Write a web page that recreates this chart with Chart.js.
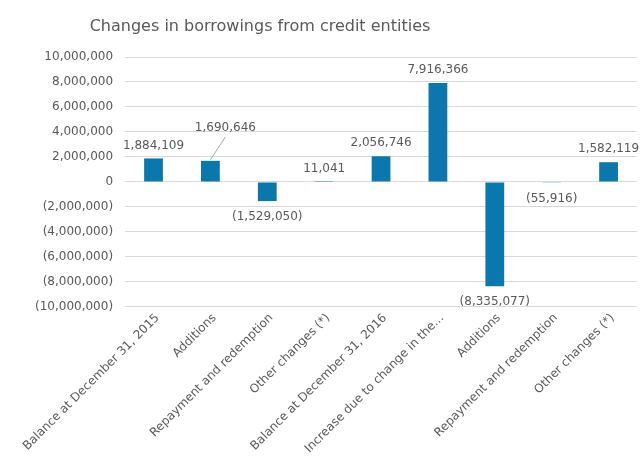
<!DOCTYPE html>
<html lang="en">
<head>
    <meta charset="UTF-8">
    <title>Changes in borrowings from credit entities</title>
    <script src="https://cdn.jsdelivr.net/npm/chart.js"></script>
    <style>
        body { margin: 0; background: #fff; }
    </style>
</head>
<body>
    <canvas id="borrowChart" width="642" height="460"></canvas>

    <script>
        const categories = [
            'Balance at December 31, 2015',
            'Additions',
            'Repayment and redemption',
            'Other changes (*)',
            'Balance at December 31, 2016',
            'Increase due to change in the...',
            'Additions',
            'Repayment and redemption',
            'Other changes (*)'
        ];
        const amounts = [1884109, 1690646, -1529050, 11041, 2056746, 7916366, -8335077, -55916, 1582119];
        const yMin = -10000000;
        const yMax = 10000000;
        const yStep = 2000000;
        const chartTitle = 'Changes in borrowings from credit entities';

        const FONT = 'DejaVu Sans, Verdana, sans-serif';
        const TEXT = '#595959';

        function fmt(v) {
            const s = Math.abs(v).toLocaleString('en-US');
            return v < 0 ? '(' + s + ')' : s;
        }

        // value labels like excel; second bar has a leader line
        const valueLabels = {
            id: 'valueLabels',
            afterDatasetsDraw(chart) {
                const ctx = chart.ctx;
                const meta = chart.getDatasetMeta(0);
                ctx.save();
                ctx.font = '12px ' + FONT;
                ctx.fillStyle = TEXT;
                ctx.textAlign = 'center';
                ctx.textBaseline = 'middle';
                meta.data.forEach((bar, i) => {
                    const v = amounts[i];
                    let x = bar.x;
                    let y = v >= 0 ? bar.y - 13 : bar.y + 16;
                    if (i === 1) {
                        x = bar.x + 15;
                        y = bar.y - 33;
                        ctx.strokeStyle = '#a6a6a6';
                        ctx.lineWidth = 1;
                        ctx.beginPath();
                        ctx.moveTo(x, y + 9);
                        ctx.lineTo(bar.x, bar.y - 1);
                        ctx.stroke();
                    }
                    ctx.fillText(fmt(v), x, y);
                });
                ctx.restore();
            }
        };

        // title sits left of centre in the original, so draw it by hand
        const offsetTitle = {
            id: 'offsetTitle',
            afterDraw(chart) {
                const ctx = chart.ctx;
                ctx.save();
                ctx.font = '16px ' + FONT;
                ctx.fillStyle = TEXT;
                ctx.textAlign = 'center';
                ctx.textBaseline = 'middle';
                ctx.fillText(chartTitle, 260, 27);
                ctx.restore();
            }
        };

        const ctx = document.getElementById('borrowChart').getContext('2d');
        new Chart(ctx, {
            type: 'bar',
            data: {
                labels: categories,
                datasets: [{
                    data: amounts,
                    backgroundColor: '#0A78AC',
                    categoryPercentage: 1.0,
                    barPercentage: 0.33
                }]
            },
            options: {
                responsive: false,
                animation: false,
                layout: { padding: { left: 23, right: 5, top: 57, bottom: 0 } },
                scales: {
                    x: {
                        grid: { display: false, drawTicks: false },
                        border: { display: false },
                        ticks: {
                            color: TEXT,
                            font: { family: FONT, size: 12 },
                            maxRotation: 45,
                            minRotation: 45,
                            autoSkip: false,
                            padding: 4,
                            labelOffset: 4
                        }
                    },
                    y: {
                        min: yMin,
                        max: yMax,
                        grid: { color: '#d9d9d9', drawTicks: false },
                        border: { display: false },
                        ticks: {
                            stepSize: yStep,
                            color: TEXT,
                            padding: 12,
                            font: { family: FONT, size: 12 },
                            callback: v => v === 0 ? '0' : fmt(v)
                        }
                    }
                },
                plugins: {
                    legend: { display: false },
                    tooltip: { enabled: false },
                    title: { display: false }
                }
            },
            plugins: [valueLabels, offsetTitle]
        });
    </script>
</body>
</html>
